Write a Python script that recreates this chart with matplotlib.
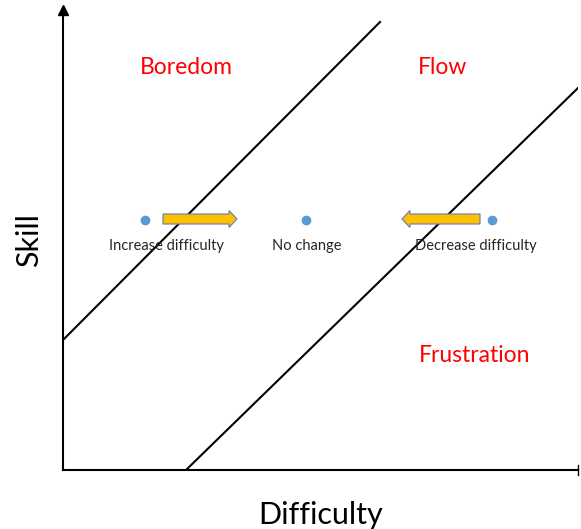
import matplotlib.pyplot as plt
from matplotlib.patches import FancyArrow

plt.rcParams['font.family'] = ['Lato', 'DejaVu Sans']

# diagram coordinates (origin at the axes corner)
boundary_lines = [((0, 317), (130, 448)),
                  ((123, 515), (0, 382))]
point_x = [82, 243, 429]
point_y = [250, 250, 250]
point_labels = ['Increase difficulty', 'No change', 'Decrease difficulty']
label_x = [103, 244, 413]
arrow_start = [100, 417]
arrow_dx = [74, -78]
zones = ['Boredom', 'Flow', 'Frustration']
zone_x = [123, 380, 412]
zone_y = [403, 403, 115]

fig = plt.figure(figsize=(5.81, 5.29), dpi=100)
ax = fig.add_axes([63/581, 59/529, 515/581, 460/529])
ax.set_xlim(0, 515)
ax.set_ylim(0, 460)
for s in ['top', 'right']:
    ax.spines[s].set_visible(False)
ax.spines['left'].set_linewidth(1.5)
ax.spines['bottom'].set_linewidth(1.5)
ax.set_xticks([])
ax.set_yticks([])

# arrow head on y axis, end tick on x axis
ax.plot([0], [460], marker='^', color='black', markersize=7, clip_on=False)
ax.plot([515, 515], [-5, 5], color='black', lw=1, clip_on=False)

for xs, ys in boundary_lines:
    ax.plot(xs, ys, color='black', lw=1.5)

for x0, dx in zip(arrow_start, arrow_dx):
    ax.add_patch(FancyArrow(x0, 251, dx, 0, width=10, head_width=17,
                            head_length=8, length_includes_head=True,
                            facecolor='#FFC000', edgecolor='#5B7DB8', lw=0.8,
                            zorder=3))

ax.plot(point_x, point_y, 'o', color='#5B9BD5', markersize=6, zorder=4)
for x, y, t in zip(label_x, point_y, point_labels):
    ax.text(x, y - 26, t, ha='center', va='center', fontsize=10.5,
            color='#262626')

for x, y, t in zip(zone_x, zone_y, zones):
    ax.text(x, y, t, ha='center', va='center', fontsize=16.5, color='red')

ax.set_xlabel('Difficulty', fontsize=22, labelpad=22)
ax.set_ylabel('Skill', fontsize=22, labelpad=14)

fig.savefig('out.png', dpi=100)
